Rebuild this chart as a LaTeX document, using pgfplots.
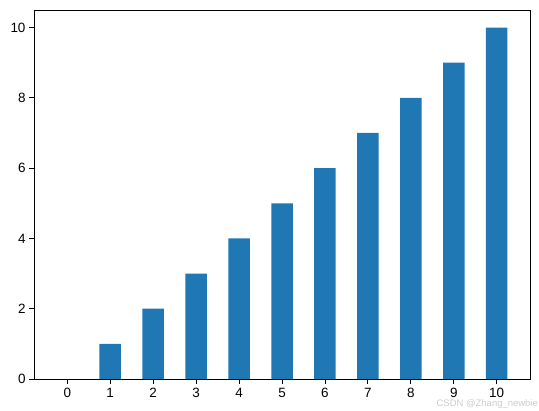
\documentclass[border=0pt]{standalone}
\usepackage{pgfplots}
\pgfplotsset{compat=1.18}
\usepackage{fontspec}
\setmainfont{Liberation Sans}
\definecolor{mplblue}{HTML}{1F77B4}
\begin{document}
\begin{tikzpicture}[x=1bp,y=1bp]
\path[use as bounding box] (-34bp,-32bp) rectangle (505bp,379bp);
\begin{axis}[
  at={(0,0)}, anchor=south west,
  scale only axis,
  width=496bp, height=369bp,
  xmin=-0.775, xmax=10.775,
  ymin=0, ymax=10.5,
  xtick={0,...,10},
  ytick={0,2,4,6,8,10},
  tick align=outside,
  tick pos=left,
  major tick length=5bp,
  tick style={black, line width=0.8bp},
  axis line style={line width=0.8bp},
  ticklabel style={font=\fontsize{13.5}{16}\selectfont},
  /pgf/number format/assume math mode=true,
  xticklabel style={yshift=-1bp},
  ybar, bar width=21.5bp,
  bar shift=0pt,
]
\addplot[fill=mplblue, draw=none] coordinates {
 (0,0) (1,1) (2,2) (3,3) (4,4) (5,5) (6,6) (7,7) (8,8) (9,9) (10,10)
};
\end{axis}
\node[anchor=east, text=black!20, font=\fontsize{9.5}{11}\selectfont, inner sep=0pt] at (504bp,-25.5bp) {CSDN @Zhang\_newbie};
\end{tikzpicture}
\end{document}
